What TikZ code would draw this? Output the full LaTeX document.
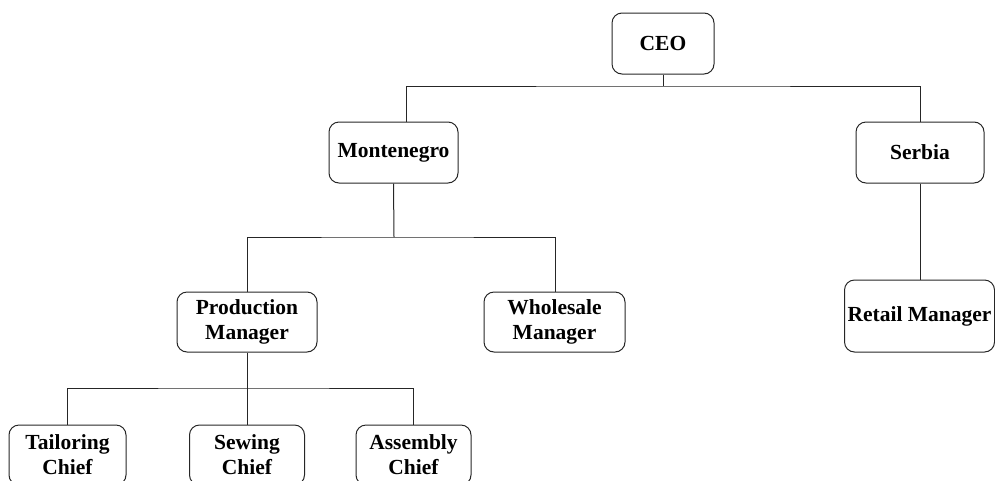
\documentclass[tikz,border=0pt]{standalone}
\usepackage{fontspec}
\setmainfont{Liberation Serif}
\begin{document}
\begin{tikzpicture}[x=1pt,y=-1pt,
  box/.style={draw=black!85, line width=1pt, rounded corners=10pt,
    align=center, inner sep=0pt,
    font=\fontsize{21.5}{25}\selectfont\bfseries},
  link/.style={draw=black!85, line width=1pt}]
\useasboundingbox (0,0) rectangle (995,480);
\clip (0,0) rectangle (995,480);

% boxes
\node[box, minimum width=102pt, minimum height=61pt] (ceo) at (663,43.5) {CEO};
\node[box, minimum width=129pt, minimum height=61pt] (mont) at (393.5,152.5) {Montenegro};
\node[box, minimum width=128pt, minimum height=61pt] (serb) at (920,152.5) {Serbia};
\node[box, minimum width=140pt, minimum height=60pt] (prod) at (247,322) {Production\\Manager};
\node[box, minimum width=141pt, minimum height=60pt] (whole) at (554.5,322) {Wholesale\\Manager};
\node[box, minimum width=150pt, minimum height=72pt] (retail) at (919.5,316) {Retail Manager};
\node[box, minimum width=117pt, minimum height=60pt] (tail) at (67.5,455) {Tailoring\\Chief};
\node[box, minimum width=115pt, minimum height=60pt] (sew) at (247,455) {Sewing\\Chief};
\node[box, minimum width=115pt, minimum height=60pt] (assem) at (413.5,455) {Assembly\\Chief};

% junction points of the connector buses
\coordinate (bus1) at (663,86);
\coordinate (bus2) at (394,237);
\coordinate (bus3) at (247,388);

% connectors
\draw[link] (ceo.south) -- (bus1);
\draw[link] ([xshift=12.5pt]mont.north) |- (bus1) -| (serb.north);
\draw[link] (mont.south) -- (bus2);
\draw[link] (prod.north) |- (bus2) -| ([xshift=0.5pt]whole.north);
\draw[link] (serb.south) -- (serb.south |- retail.north);
\draw[link] (prod.south) -- (bus3);
\draw[link] (tail.north) |- (bus3) -| (assem.north);
\draw[link] (sew.north) -- (bus3);
\end{tikzpicture}
\end{document}
